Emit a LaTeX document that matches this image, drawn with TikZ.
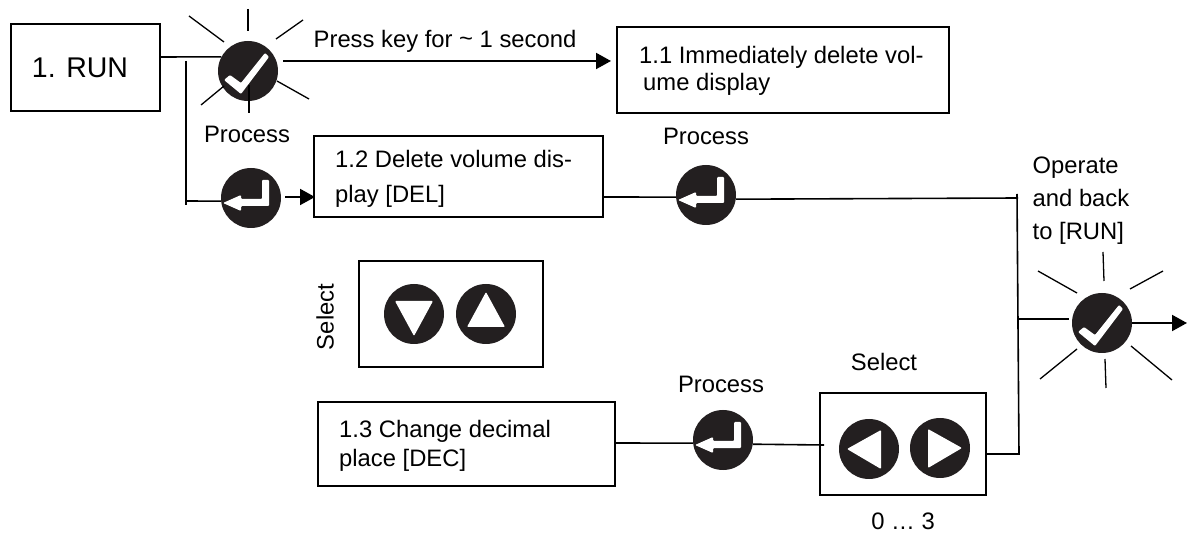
\documentclass[tikz,border=0pt]{standalone}
\usepackage{fontspec}
\setmainfont{Liberation Sans}
\usetikzlibrary{arrows.meta}

\definecolor{keyblack}{HTML}{231F20}

\tikzset{
	label text/.style={font=\fontsize{23.8}{29}\selectfont,inner sep=0pt},
	step box/.style={draw,line width=1.7pt,inner sep=0pt},
	step text/.style={font=\fontsize{23.8}{27}\selectfont,align=left,inner sep=0pt},
	key/.style={circle,fill=keyblack,minimum size=60pt,inner sep=0pt},
	glyph/.style={fill=white,rounded corners=1pt,shift={(path picture bounding box.center)}},
	check key/.style={key,path picture={\fill[glyph] (-24,9) -- (-7,23) -- (21,-14) -- (17,-18) -- (-7,12) -- (-18,4) -- cycle;}},
	enter key/.style={key,path picture={\fill[glyph] (-28,5) -- (-10,-3) -- (-10,1) -- (11,1) -- (11,-18) -- (18,-18) -- (18,8) -- (-10,8) -- (-10,13) -- cycle;}},
	left key/.style={key,path picture={\fill[glyph] (-22,0) -- (12,-19) -- (12,20) -- cycle;}},
	right key/.style={key,path picture={\fill[glyph] (-12,-19) -- (22,0) -- (-12,20) -- cycle;}},
	down key/.style={key,path picture={\fill[glyph] (-19,-13) -- (19,-13) -- (0,22) -- cycle;}},
	up key/.style={key,path picture={\fill[glyph] (0,-22) -- (19,13) -- (-19,13) -- cycle;}},
	wire/.style={line width=1.6pt},
	ray/.style={line width=1.3pt},
	flow/.style={line width=2pt,-{Triangle[length=15pt,width=16pt]}}
}

\begin{document}
\begin{tikzpicture}[x=1pt,y=-1pt]
	\useasboundingbox (0,0) rectangle (1197,534);

	% boxes
	\draw[step box] (11,24) rectangle (160,111);
	\node[font=\fontsize{28.5}{34}\selectfont,inner sep=0pt] (run) at (80,68) {1. RUN};
	\draw[step box] (617,27) rectangle (949,113);
	\node[step text,anchor=west] (immediate) at (639,71) {1.1 Immediately delete vol-\\\hspace{4pt}ume display};
	\draw[step box] (314,136) rectangle (603,217);
	\node[step text,anchor=west,font=\fontsize{23.8}{35}\selectfont] (delete) at (335,179) {1.2 Delete volume dis-\\play [DEL]};
	\draw[step box] (318,402) rectangle (615,486);
	\node[step text,anchor=west,font=\fontsize{23.8}{29}\selectfont] (decimal) at (339,446) {1.3 Change decimal\\place [DEC]};
	\draw[step box] (359,261) rectangle (543,367);
	\draw[step box] (820,393) rectangle (986,495);

	% keys
	\node[check key] (check) at (248,71) {};
	\node[enter key] (enterrun) at (251,198) {};
	\node[enter key] (enterdel) at (706,195) {};
	\node[enter key] (enterdec) at (723,440) {};
	\node[check key] (operate) at (1102,323) {};
	\node[down key] (down) at (414,314) {};
	\node[up key] (up) at (486,314) {};
	\node[left key] (leftkey) at (869,449) {};
	\node[right key] (rightkey) at (940,448) {};

	% rays
	\draw[ray] (189,16) -- (224,42);
	\draw[ray] (248,9) -- (248,31);
	\draw[ray] (303,20) -- (276,39);
	\draw[ray] (277,81) -- (309,99);
	\draw[ray] (249,85) -- (249,113);
	\draw[ray] (201,105) -- (224,86);
	\draw[ray] (1038,271) -- (1077,293);
	\draw[ray] (1103,252) -- (1104,281);
	\draw[ray] (1163,271) -- (1130,289);
	\draw[ray] (1131,346) -- (1172,380);
	\draw[ray] (1105,359) -- (1106,388);
	\draw[ray] (1077,349) -- (1040,379);

	% free ends
	\coordinate (runtop) at (186,61);
	\coordinate (runbottom) at (186,205);
	\coordinate (runright) at (161,57);
	\coordinate (bustop) at (1017,194);
	\coordinate (busbottom) at (1019,454);
	\coordinate (runturn) at (186,201);
	\coordinate (checkout) at (283,61);
	\coordinate (immediatein) at (611,61);
	\coordinate (enterout) at (285,197);
	\coordinate (deletein) at (315,197);
	\coordinate (deleteout) at (603,197);
	\coordinate (busjoin) at (1018,198);
	\coordinate (selectout) at (986,454);
	\coordinate (busbranch) at (1017,319);
	\coordinate (operatein) at (1069,319);
	\coordinate (runend) at (1187,323);
	\coordinate (decimalout) at (615,443);
	\coordinate (selectin) at (824,445);

	% connectors
	\draw[wire] (runright) -- (check.152);
	\draw[wire] (runtop) -- (runbottom);
	\draw[wire] (runturn) -- (enterrun.186);
	\draw[flow] (checkout) -- (immediatein);
	\draw[flow] (enterout) -- (deletein);
	\draw[wire] (deleteout) -- (enterdel.184);
	\draw[wire] (enterdel.352) -- (busjoin);
	\draw[wire] (bustop) -- (busbottom) -- (selectout);
	\draw[wire] (busbranch) -- (operatein);
	\draw[flow] (operate.east) -- (runend);
	\draw[wire] (decimalout) -- (enterdec.186);
	\draw[wire] (enterdec.352) -- (selectin);

	% labels
	\node[label text] (presslabel) at (445,41) {Press key for \raisebox{1pt}{\textasciitilde} 1 second};
	\node[label text] (processrun) at (247,134) {Process};
	\node[label text] (processdel) at (706,136) {Process};
	\node[label text] (processdec) at (721,384) {Process};
	\node[label text] (selectkeys) at (884,362) {Select};
	\node[label text] (range) at (903,521) {0 … 3};
	\node[label text,rotate=90] (selectarrows) at (325,317) {Select};
	\node[label text,align=left,font=\fontsize{23.8}{33}\selectfont] (operatelabel) at (1081,201) {Operate\\and back\\to [RUN]};
\end{tikzpicture}
\end{document}
